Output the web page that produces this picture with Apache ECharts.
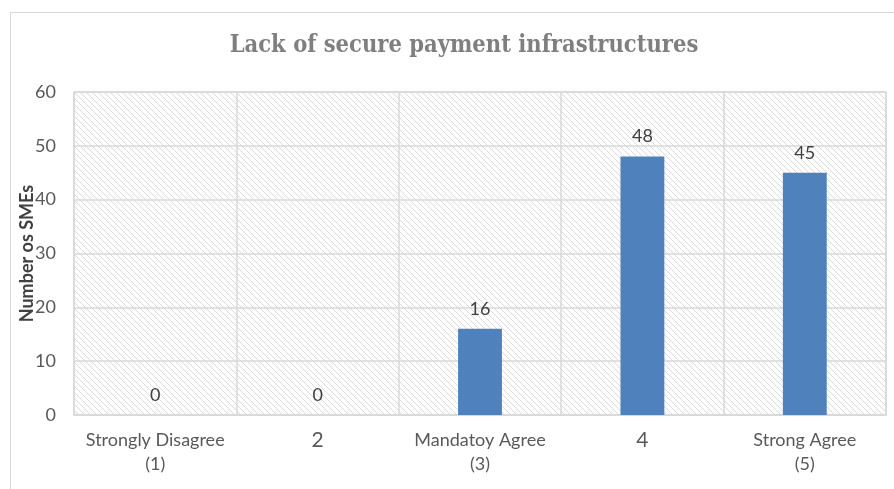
<!DOCTYPE html>
<html>
<head>
<meta charset="utf-8">
<script src="https://cdn.jsdelivr.net/npm/echarts@6/dist/echarts.min.js"></script>
<style>
  html, body { margin: 0; padding: 0; background: #fff; }
  #chart { width: 894px; height: 489px; }
</style>
</head>
<body>
<div id="chart"></div>
<script>
// Survey responses: number of SMEs per answer
const categories = ['Strongly Disagree\n(1)', '2', 'Mandatoy Agree\n(3)', '4', 'Strong Agree\n(5)'];
const counts = [0, 0, 16, 48, 45];
const yTicks = { min: 0, max: 60, interval: 10 };

// Diagonal hatch used as the plot background
function makeHatch() {
  const s = 6;
  const c = document.createElement('canvas');
  c.width = s; c.height = s;
  const g = c.getContext('2d');
  g.fillStyle = '#ffffff';
  g.fillRect(0, 0, s, s);
  g.strokeStyle = '#dadada';
  g.lineWidth = 1;
  g.beginPath();
  g.moveTo(-1, -1); g.lineTo(s + 1, s + 1);
  g.moveTo(-1, s - 1); g.lineTo(1, s + 1);
  g.moveTo(s - 1, -1); g.lineTo(s + 1, 1);
  g.stroke();
  return c;
}

const chart = echarts.init(document.getElementById('chart'));
const labelFont = 'Lato, Open Sans, sans-serif';

chart.setOption({
  animation: false,
  backgroundColor: '#ffffff',
  graphic: [{
    type: 'rect',
    shape: { x: 10.5, y: 12.5, width: 900, height: 500 },
    style: { fill: 'none', stroke: '#d9d9d9', lineWidth: 1 },
    z: -10
  }],
  title: {
    text: 'Lack of secure payment infrastructures',
    left: 459,
    textAlign: 'center',
    top: 29,
    textStyle: {
      fontFamily: 'DejaVu Serif Condensed, DejaVu Serif, serif',
      fontWeight: 'bold',
      fontSize: 23.5,
      color: '#7f7f7f'
    }
  },
  grid: {
    left: 74, right: 8, top: 92, bottom: 74,
    outerBoundsMode: 'none',
    show: true,
    borderColor: '#d9d9d9',
    borderWidth: 1.5,
    backgroundColor: { image: makeHatch(), repeat: 'repeat' }
  },
  xAxis: {
    type: 'category',
    data: categories,
    axisTick: { show: false },
    axisLine: { lineStyle: { color: '#d9d9d9', width: 1.5 } },
    splitLine: { show: true, lineStyle: { color: '#d9d9d9', width: 1.5 } },
    axisLabel: {
      color: '#595959',
      fontFamily: labelFont,
      fontSize: 18,
      lineHeight: 24,
      margin: 13,
      interval: 0,
      formatter: v => (v === '2' || v === '4') ? '{big|' + v + '}' : v,
      rich: { big: { fontSize: 21, color: '#595959', fontFamily: labelFont } }
    }
  },
  yAxis: {
    type: 'value',
    min: yTicks.min, max: yTicks.max, interval: yTicks.interval,
    name: 'Number os SMEs',
    nameLocation: 'middle',
    nameGap: 38,
    nameMoveOverlap: false,
    nameTextStyle: {
      color: '#404040',
      fontFamily: labelFont,
      fontWeight: 'bold',
      fontSize: 18
    },
    axisLine: { show: false },
    axisTick: { show: false },
    splitLine: { lineStyle: { color: '#d9d9d9', width: 1.5 } },
    axisLabel: {
      color: '#595959',
      fontFamily: labelFont,
      fontSize: 18,
      margin: 18
    }
  },
  series: [{
    type: 'bar',
    data: counts,
    barWidth: '27%',
    itemStyle: { color: '#4f81bd' },
    label: {
      show: true,
      position: 'top',
      distance: 11,
      color: '#404040',
      fontFamily: labelFont,
      fontSize: 18
    }
  }]
});
</script>
</body>
</html>
